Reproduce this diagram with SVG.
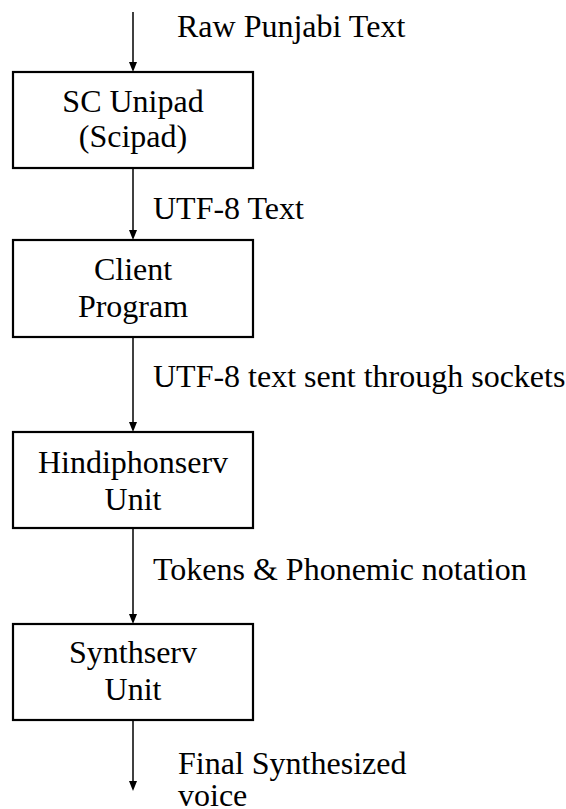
<svg xmlns="http://www.w3.org/2000/svg" width="566" height="809" viewBox="0 0 566 809">
  <style>
    .box { fill: #fff; stroke: #000; stroke-width: 2.2; }
    .lbl { font-family: "Times New Roman", "Liberation Serif", "Noto Serif", serif; font-size: 32px; fill: #000; }
    .mid { text-anchor: middle; }
    .wire { stroke: #000; stroke-width: 1.5; fill: none; }
    .head { fill: #000; }
  </style>
  <rect width="566" height="809" fill="#fff"/>

  <!-- flow connectors with their labels -->
  <g id="connectors">
    <path class="wire" d="M133,12 V62"/>
    <path class="head" d="M129,62 L137,62 L133,72 Z"/>
    <path class="wire" d="M133,168 V230"/>
    <path class="head" d="M129,230 L137,230 L133,240 Z"/>
    <path class="wire" d="M133,337 V422"/>
    <path class="head" d="M129,422 L137,422 L133,432 Z"/>
    <path class="wire" d="M133,528 V614"/>
    <path class="head" d="M129,614 L137,614 L133,624 Z"/>
    <path class="wire" d="M133,720 V781"/>
    <path class="head" d="M129,781 L137,781 L133,791 Z"/>
    <text class="lbl" x="177" y="37">Raw Punjabi Text</text>
    <text class="lbl" x="153" y="219">UTF-8 Text</text>
    <text class="lbl" x="153" y="387">UTF-8 text sent through sockets</text>
    <text class="lbl" x="153" y="580">Tokens &amp; Phonemic notation</text>
    <text class="lbl" x="178" y="774">Final Synthesized</text>
    <text class="lbl" x="178" y="806">voice</text>
  </g>

  <g id="scunipad">
    <rect class="box" x="13" y="72" width="240" height="96"/>
    <text class="lbl mid" x="133" y="112">SC Unipad</text>
    <text class="lbl mid" x="133" y="147">(Scipad)</text>
  </g>

  <g id="client">
    <rect class="box" x="13" y="240" width="240" height="97"/>
    <text class="lbl mid" x="133" y="280">Client</text>
    <text class="lbl mid" x="133" y="317">Program</text>
  </g>

  <g id="hindiphonserv">
    <rect class="box" x="13" y="432" width="240" height="96"/>
    <text class="lbl mid" x="133" y="473">Hindiphonserv</text>
    <text class="lbl mid" x="133" y="510">Unit</text>
  </g>

  <g id="synthserv">
    <rect class="box" x="13" y="624" width="240" height="96"/>
    <text class="lbl mid" x="133" y="663">Synthserv</text>
    <text class="lbl mid" x="133" y="700">Unit</text>
  </g>
</svg>
